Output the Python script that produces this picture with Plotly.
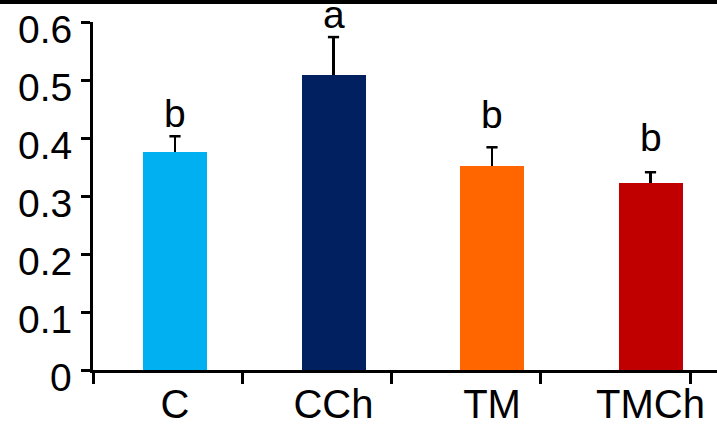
import plotly.graph_objects as go

categories = ["C", "CCh", "TM", "TMCh"]
values = [0.376, 0.509, 0.352, 0.322]
errors = [0.027, 0.065, 0.032, 0.019]
letters = ["b", "a", "b", "b"]
letter_y = [0.417, 0.588, 0.416, 0.376]
colors = ["#00B0F0", "#002060", "#FF6600", "#C00000"]
y_ticks = [0, 0.1, 0.2, 0.3, 0.4, 0.5, 0.6]
y_ticktext = ["0", "0.1", "0.2", "0.3", "0.4", "0.5", "0.6"]

W, H = 717, 429
ml, mr, mt, mb = 93, 0, 22, 59
pw = W - ml - mr
ph = H - mt - mb
centre_step = 158.5
first_centre = 175 - ml
tick_step = 149.25
FONT = "Liberation Sans, Arial"

x_idx = list(range(len(categories)))
x0 = -first_centre / centre_step
x1 = x0 + pw / centre_step
tops = [v + e for v, e in zip(values, errors)]

fig = go.Figure()
fig.add_trace(go.Bar(
    x=x_idx, y=values, width=64 / centre_step,
    marker=dict(color=colors, line=dict(width=0)),
    error_y=dict(type="data", symmetric=False, array=errors,
                 arrayminus=[0] * len(errors), color="black",
                 thickness=2.5, width=0),
    cliponaxis=False, showlegend=False,
))
# error-bar caps
fig.add_trace(go.Scatter(
    x=x_idx, y=tops, mode="markers",
    marker=dict(symbol="line-ew", size=8, line=dict(width=2.5, color="black")),
    showlegend=False, hoverinfo="skip", cliponaxis=False,
))
for xi, t, ly in zip(x_idx, letters, letter_y):
    fig.add_annotation(x=xi, y=ly, text=t, showarrow=False, yanchor="bottom",
                       font=dict(family=FONT, size=39, color="black"),
                       yshift=-9)
# y tick labels (drawn slightly below their ticks, as in the reference)
for tv, tt in zip(y_ticks, y_ticktext):
    fig.add_annotation(xref="paper", x=0, y=tv, text=tt, showarrow=False,
                       xanchor="right", yanchor="middle", xshift=-19, yshift=-7,
                       font=dict(family=FONT, size=39, color="black"))

# dummy trace for secondary tick axis
fig.add_trace(go.Scatter(x=[0], y=[0], xaxis="x2", mode="markers",
                         marker=dict(opacity=0), showlegend=False, hoverinfo="skip"))

fig.update_layout(
    width=W, height=H,
    margin=dict(l=ml, r=mr, t=mt, b=mb, autoexpand=False),
    plot_bgcolor="white", paper_bgcolor="white",
    font=dict(family=FONT, color="black"),
    bargap=0,
    xaxis=dict(range=[x0, x1], tickvals=x_idx, ticktext=categories,
               ticks="", showgrid=False, zeroline=False, automargin=False,
               showline=False, tickfont=dict(size=40), ticklabelstandoff=7),
    xaxis2=dict(range=[0, pw / tick_step], overlaying="x", side="bottom",
                anchor="y", tickvals=[0, 1, 2, 3, 4], ticks="outside",
                ticklen=11, tickwidth=2.5, tickcolor="black", automargin=False,
                showticklabels=False, showgrid=False, zeroline=False,
                showline=True, linecolor="black", linewidth=2.5),
    yaxis=dict(range=[0, 0.6], tickvals=y_ticks, showticklabels=False,
               ticks="outside", ticklen=9, tickwidth=2.5, tickcolor="black",
               showline=True, linecolor="black", linewidth=2.5, automargin=False,
               showgrid=False, zeroline=False),
    shapes=[dict(type="rect", xref="paper", yref="paper",
                 x0=-ml / pw, x1=1, y0=(ph + mt - 4) / ph, y1=(ph + mt) / ph,
                 fillcolor="black", line=dict(width=0), layer="above")],
)

fig.write_html("out.html", config={"displayModeBar": False},
               post_script="document.body.style.margin='0';document.body.style.overflow='hidden';")
